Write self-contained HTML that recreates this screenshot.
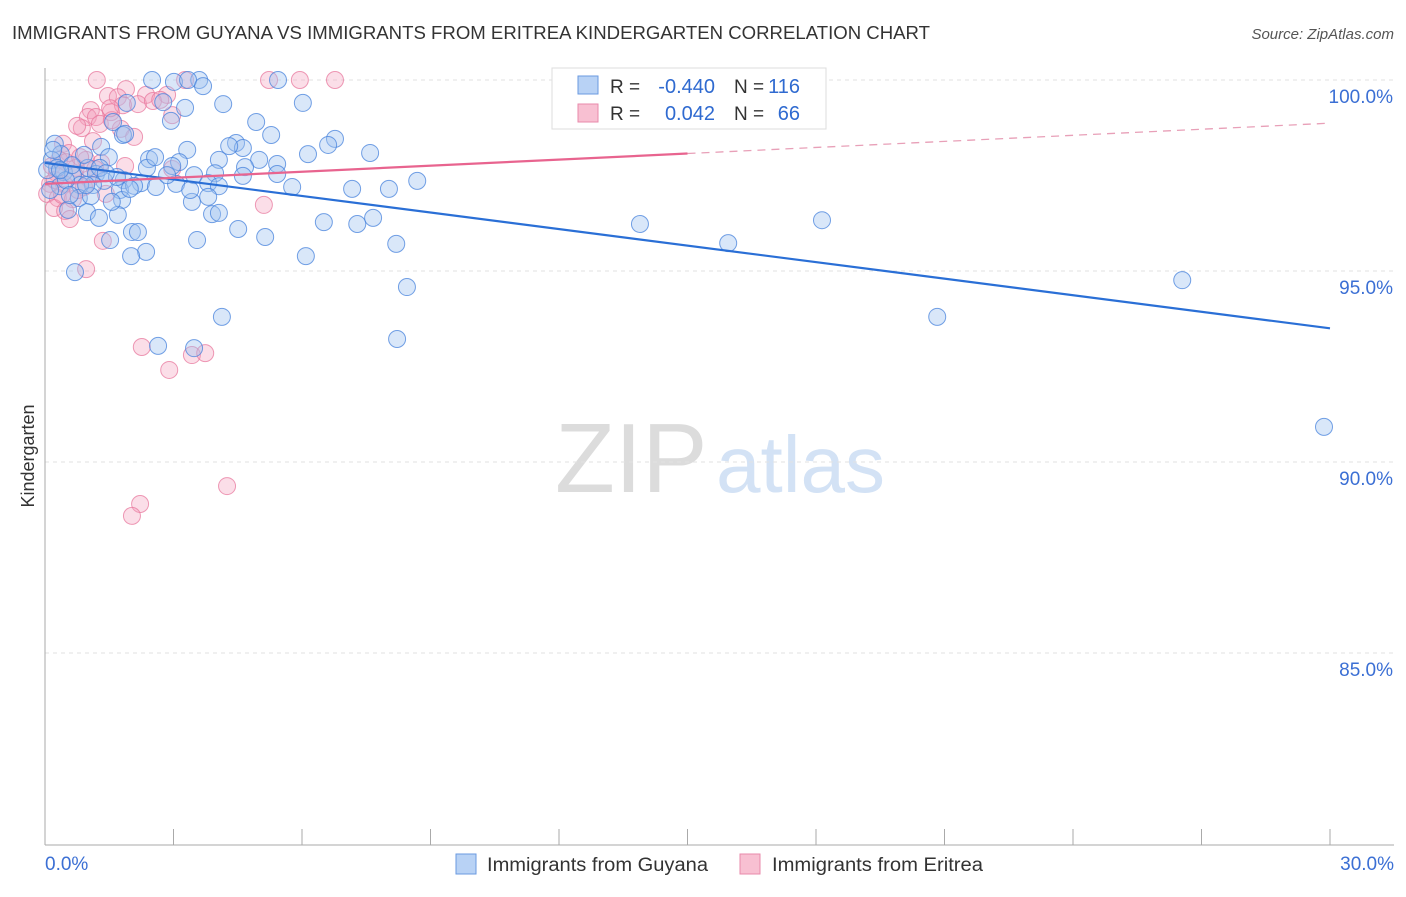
<!DOCTYPE html>
<html><head><meta charset="utf-8"><style>
body{margin:0;background:#fff;font-family:"Liberation Sans",sans-serif;}
svg text{font-family:"Liberation Sans",sans-serif;}
</style></head><body>
<svg id="c" width="1406" height="892" xmlns="http://www.w3.org/2000/svg">
<text x="12" y="39" font-size="18" fill="#333" textLength="918" lengthAdjust="spacingAndGlyphs">IMMIGRANTS FROM GUYANA VS IMMIGRANTS FROM ERITREA KINDERGARTEN CORRELATION CHART</text>
<text x="1394" y="39" font-size="15" fill="#555" font-style="italic" text-anchor="end">Source: ZipAtlas.com</text>
<text transform="translate(34,456) rotate(-90)" font-size="18" fill="#333" text-anchor="middle">Kindergarten</text>
<g>
<text x="555" y="492" font-size="98" fill="#dcdcdc" font-family="Liberation Serif, serif">ZIP</text>
<text x="716" y="492" font-size="80" fill="#d3e2f5">atlas</text>
</g>
<g id="grid"></g><g id="axes"></g><g id="pts"></g><g id="trend"></g>
<g>
<rect x="552" y="68" width="274" height="61" fill="#fff" stroke="#ddd"/>
<rect x="578" y="76" width="20" height="18" fill="#b8d2f5" stroke="#6a9ae0"/>
<rect x="578" y="104" width="20" height="18" fill="#f8c0d2" stroke="#e88aab"/>
<text x="610" y="93" font-size="19" fill="#333">R =</text>
<text x="715" y="93" font-size="20" fill="#2f6ad0" text-anchor="end">-0.440</text>
<text x="734" y="93" font-size="19" fill="#333">N =</text>
<text x="800" y="93" font-size="20" fill="#2f6ad0" text-anchor="end">116</text>
<text x="610" y="120" font-size="19" fill="#333">R =</text>
<text x="715" y="120" font-size="20" fill="#2f6ad0" text-anchor="end">0.042</text>
<text x="734" y="120" font-size="19" fill="#333">N =</text>
<text x="800" y="120" font-size="20" fill="#2f6ad0" text-anchor="end">66</text>
</g>
<g>
<rect x="456" y="854" width="20" height="20" fill="#b8d2f5" stroke="#6a9ae0"/>
<text x="487" y="871" font-size="19" fill="#333" textLength="221" lengthAdjust="spacingAndGlyphs">Immigrants from Guyana</text>
<rect x="740" y="854" width="20" height="20" fill="#f8c0d2" stroke="#e88aab"/>
<text x="772" y="871" font-size="19" fill="#333" textLength="211" lengthAdjust="spacingAndGlyphs">Immigrants from Eritrea</text>
</g>
</svg>
<script>
const yTicks=[100,95,90,85];
const yTickLabels=["100.0%","95.0%","90.0%","85.0%"];
const xLabels=["0.0%","30.0%"];
const blueX=[2.50,3.01,3.60,5.44,3.34,3.69,1.91,2.76,3.27,4.16,6.02,2.94,4.93,1.59,1.82,5.28,4.46,4.62,1.31,3.32,6.77,6.61,7.59,0.23,0.37,6.14,4.06,2.43,3.13,5.00,5.42,4.67,5.42,1.49,2.38,2.97,3.48,3.97,0.44,1.00,0.65,1.19,1.84,2.24,3.06,3.81,4.06,4.62,5.77,7.17,8.03,8.69,1.38,1.75,1.12,0.82,0.35,0.79,1.07,1.80,3.43,3.81,0.54,0.98,1.26,1.70,3.90,4.06,4.51,6.51,7.29,7.66,2.03,2.17,1.52,3.55,5.14,8.20,2.36,2.01,6.09,0.70,8.45,13.89,15.95,18.14,26.55,20.83,29.86,4.13,2.64,3.48,8.22,0.16,0.28,0.49,0.12,0.58,0.91,1.28,1.68,2.08,2.59,1.56,1.98,0.19,0.63,0.05,0.35,0.96,1.42,1.87,2.57,3.39,2.85,4.30];
const blueY=[100.0,99.95,100.0,100.0,100.0,99.84,99.40,99.42,99.27,99.37,99.40,98.93,98.90,98.90,98.56,98.56,98.35,98.22,98.25,98.17,98.46,98.30,98.09,98.33,98.06,98.06,97.91,97.93,97.85,97.91,97.80,97.72,97.54,97.98,97.70,97.75,97.51,97.56,97.59,97.70,97.51,97.54,97.38,97.30,97.28,97.30,97.22,97.49,97.20,97.15,97.15,97.36,97.36,97.12,97.25,97.25,97.22,96.91,96.96,96.86,96.81,96.94,96.60,96.54,96.39,96.47,96.49,96.52,96.10,96.28,96.23,96.39,96.02,96.02,95.81,95.81,95.89,95.71,95.50,95.39,95.39,94.97,94.58,96.23,95.73,96.33,94.76,93.80,90.92,93.80,93.04,92.98,93.22,97.91,97.70,97.38,97.12,96.99,98.04,97.70,97.46,97.23,97.20,96.81,97.15,98.17,97.77,97.64,97.64,97.25,97.56,98.59,97.98,97.12,97.51,98.27];
const pinkX=[1.21,3.27,5.23,5.95,6.77,13.17,1.89,1.47,1.70,2.36,2.85,2.17,1.07,1.54,1.00,1.19,2.97,0.86,0.75,1.28,1.77,2.08,1.12,0.42,0.56,0.33,0.96,1.31,1.87,0.72,0.16,0.28,0.70,1.03,0.12,0.44,0.91,1.42,0.05,0.30,0.65,0.21,0.47,0.58,1.35,0.96,5.11,2.26,2.90,3.43,3.74,4.25,2.22,2.03,2.52,1.82,2.69,1.56,0.49,0.82,1.17,0.23,0.77,0.40,1.52,2.97];
const pinkY=[100.0,100.0,100.0,100.0,100.0,100.0,99.76,99.58,99.55,99.61,99.61,99.37,99.21,99.16,99.03,99.03,99.08,98.74,98.80,98.85,98.72,98.51,98.40,98.33,98.09,97.91,97.91,97.83,97.75,97.70,97.75,97.56,97.49,97.41,97.28,97.28,97.20,97.02,97.02,96.91,96.88,96.65,96.57,96.36,95.79,95.05,96.73,93.01,92.41,92.80,92.85,89.37,88.90,88.59,99.45,99.34,99.48,98.95,97.85,97.98,97.67,97.38,97.12,96.99,99.26,97.67];
const blueTrend=[97.83,93.5];
const pinkTrend=[97.28,98.87];
const pinkSolidEnd=15;
const NS="http://www.w3.org/2000/svg";
function xs(v){return 45+v*(1330-45)/30;}
function ys(v){return 80+(100-v)*38.2;}
function mk(tag,attrs,parent){const e=document.createElementNS(NS,tag);for(const k in attrs)e.setAttribute(k,attrs[k]);parent.appendChild(e);return e;}
const grid=document.getElementById('grid'),axes=document.getElementById('axes'),pts=document.getElementById('pts'),trend=document.getElementById('trend');
yTicks.forEach((t,i)=>{
 const l=mk('line',{x1:45,x2:1394,y1:ys(t),y2:ys(t),stroke:'#e2e2e2','stroke-dasharray':'4,4'},grid);
 
 
 const tx=mk('text',{x:1393,y:ys(t)+23,'font-size':19,fill:'#3b6fd4','text-anchor':'end'},axes);
 tx.textContent=yTickLabels[i];
 
 
});
const ya=mk('line',{x1:45,x2:45,y1:68,y2:845,stroke:'#aaa'},axes);


const xa=mk('line',{x1:45,x2:1394,y1:845,y2:845,stroke:'#aaa'},axes);


for(let i=1;i<=10;i++){
 const tk=mk('line',{x1:xs(i*3),x2:xs(i*3),y1:829,y2:845,stroke:'#aaa'},axes);
 
 
}
const xl0=mk('text',{x:45,y:870,'font-size':19,fill:'#3b6fd4'},axes);xl0.textContent=xLabels[0];


const xl1=mk('text',{x:1394,y:870,'font-size':19,fill:'#3b6fd4','text-anchor':'end'},axes);xl1.textContent=xLabels[1];


pinkX.forEach((v,i)=>{
 const c=mk('circle',{cx:xs(v),cy:ys(pinkY[i]),r:8.5,fill:'rgba(244,160,188,0.35)',stroke:'rgba(232,120,158,0.75)','stroke-width':1},pts);
 
 
});
blueX.forEach((v,i)=>{
 const c=mk('circle',{cx:xs(v),cy:ys(blueY[i]),r:8.5,fill:'rgba(160,195,240,0.4)',stroke:'rgba(70,130,220,0.75)','stroke-width':1},pts);
 
 
});
const bl=mk('line',{x1:xs(0),y1:ys(blueTrend[0]),x2:xs(30),y2:ys(blueTrend[1]),stroke:'#2a6fd6','stroke-width':2.2},trend);


const pm=pinkTrend[0]+(pinkTrend[1]-pinkTrend[0])*pinkSolidEnd/30;
const pl=mk('line',{x1:xs(0),y1:ys(pinkTrend[0]),x2:xs(pinkSolidEnd),y2:ys(pm),stroke:'#e8648f','stroke-width':2.2},trend);


const pd=mk('line',{x1:xs(pinkSolidEnd),y1:ys(pm),x2:xs(30),y2:ys(pinkTrend[1]),stroke:'#e8a0b8','stroke-width':1.3,'stroke-dasharray':'8,6'},trend);


</script>
</body></html>
